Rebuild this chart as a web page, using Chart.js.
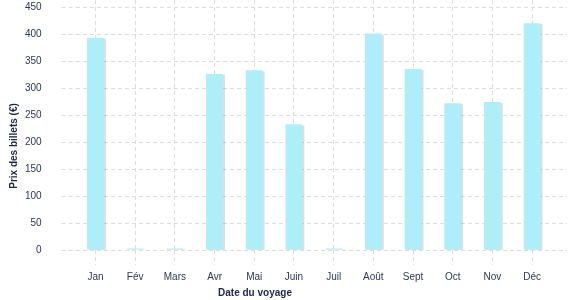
<!DOCTYPE html>
<html>
<head>
<meta charset="utf-8">
<script src="https://cdn.jsdelivr.net/npm/chart.js@4"></script>
<style>
html,body{margin:0;padding:0;background:#fff;}
#wrap{width:577px;height:300px;position:relative;}
</style>
</head>
<body>
<div id="wrap"><canvas id="c"></canvas></div>
<script>
const months = ["Jan","Fév","Mars","Avr","Mai","Juin","Juil","Août","Sept","Oct","Nov","Déc"];
const prices = [393,3,3,326,333,233,3,401,335,272,274,420];
const yTicks = [0,50,100,150,200,250,300,350,400,450];
const xTitle = "Date du voyage";
const yTitle = "Prix des billets (€)";

const FONT = "'Liberation Sans', Arial, sans-serif";
const GRID = '#dcdcdc';
const TICKCOL = '#2b3756';
const TITLECOL = '#1c2746';

const shadowPlugin = {
  id: 'barShadow',
  beforeDatasetDraw(chart) {
    const ctx = chart.ctx;
    ctx.save();
    ctx.shadowColor = 'rgba(0,0,0,0.13)';
    ctx.shadowOffsetX = 2;
    ctx.shadowOffsetY = 1;
    ctx.shadowBlur = 0;
  },
  afterDatasetDraw(chart) {
    chart.ctx.restore();
  }
};

const titlesPlugin = {
  id: 'axisTitles',
  afterDraw(chart) {
    const ctx = chart.ctx;
    ctx.save();
    ctx.fillStyle = TITLECOL;
    ctx.font = "bold 10px " + FONT;
    ctx.textAlign = 'center';
    ctx.textBaseline = 'middle';
    ctx.fillText(xTitle, 255, 293);
    ctx.translate(14, 146);
    ctx.rotate(-Math.PI / 2);
    ctx.fillText(yTitle, 0, 0);
    ctx.restore();
  }
};

new Chart(document.getElementById('c'), {
  type: 'bar',
  data: {
    labels: months,
    datasets: [{
      data: prices,
      backgroundColor: '#aeeef9',
      borderWidth: 0,
      barPercentage: 0.53,
      categoryPercentage: 0.8
    }]
  },
  options: {
    responsive: true,
    maintainAspectRatio: false,
    animation: false,
    devicePixelRatio: 1,
    layout: { padding: { left: 0, right: 10, top: 0, bottom: 0 } },
    plugins: { legend: { display: false }, tooltip: { enabled: false } },
    scales: {
      x: {
        border: { display: false, dash: [4, 3] },
        grid: {
          color: GRID,
          lineWidth: 1,
          tickBorderDash: [4, 3],
          tickLength: 15,
          offset: false
        },
        ticks: { color: TICKCOL, font: { family: FONT, size: 10 }, padding: 6, maxRotation: 0 },
        afterFit(s) { s.height = 50; }
      },
      y: {
        min: 0,
        max: 463,
        border: { display: false, dash: [4, 3] },
        grid: {
          color: GRID,
          lineWidth: 1,
          tickBorderDash: [4, 3],
          tickLength: 14
        },
        ticks: {
          stepSize: 50,
          includeBounds: false,
          color: TICKCOL,
          font: { family: FONT, size: 10 },
          padding: 20,
          callback: (v) => yTicks.includes(v) ? String(v) : ''
        },
        afterFit(s) { s.width = 75.6; s.paddingTop = 0; s.paddingBottom = 0; }
      },
      y2: {
        position: 'right',
        min: 0,
        max: 463,
        border: { display: false, dash: [4, 3] },
        grid: {
          drawOnChartArea: false,
          color: GRID,
          tickColor: GRID,
          tickBorderDash: [4, 3],
          tickLength: 15
        },
        ticks: { stepSize: 50, includeBounds: false, display: true, color: 'rgba(0,0,0,0)', padding: 0, font: { size: 1 } },
        afterFit(s) { s.width = 15; s.paddingTop = 0; s.paddingBottom = 0; }
      }
    }
  },
  plugins: [shadowPlugin, titlesPlugin]
});
</script>
</body>
</html>
